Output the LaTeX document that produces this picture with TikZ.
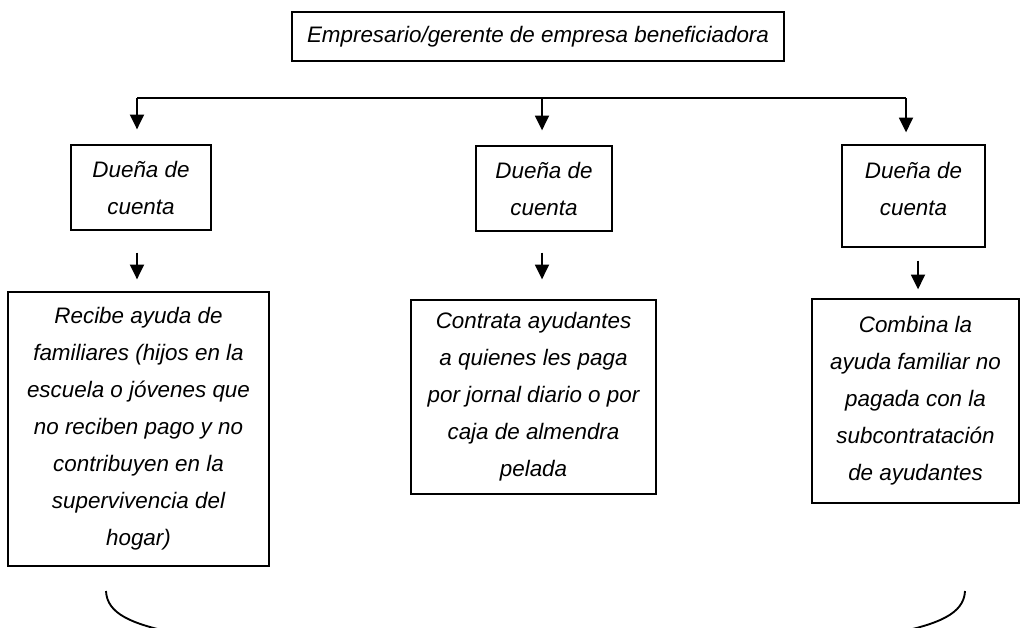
\documentclass[tikz,border=0pt]{standalone}
\usepackage{fontspec}
\setmainfont{Liberation Sans}
\usetikzlibrary{arrows.meta}
\tikzset{
  txt/.style={inner sep=0pt, align=center,
    font=\fontsize{16.8pt}{27.75pt}\selectfont\itshape},
  box/.style 2 args={txt, draw, line width=1pt,
    minimum width=#1*0.75pt, minimum height=#2*0.75pt},
  conn/.style={line width=1.4pt},
  arr/.style={conn, -{Triangle[width=10.5pt,length=11pt]}},
}
\begin{document}
\begin{tikzpicture}[x=0.75pt,y=-0.75pt]
\useasboundingbox (0,0) rectangle (1021,628);
% boxes
\node[box={492}{49}] (top) at (538,36.5) {Empresario/gerente de empresa beneficiadora};
\node[box={140}{85}] (d1) at (141,187.5) {Dueña de\\cuenta};
\node[box={136}{85}] (d2) at (544,188.5) {Dueña de\\cuenta};
\node[box={143}{102}] (d3) at (913.5,196) {};
\node[txt] (d3t) at (913.5,189) {Dueña de\\cuenta};
\node[box={261}{274}] (b1) at (138.5,429) {Recibe ayuda de\\familiares (hijos en la\\escuela o jóvenes que\\no reciben pago y no\\contribuyen en la\\supervivencia del\\hogar)};
\node[box={245}{194}] (b2) at (533.5,397) {Contrata ayudantes\\a quienes les paga\\por jornal diario o por\\caja de almendra\\pelada};
\node[box={207}{204}] (b3) at (915.5,401) {Combina la\\ayuda familiar no\\pagada con la\\subcontratación\\de ayudantes};
% distribution bar
\coordinate (barL) at (137,98);
\coordinate (barM) at (542,98);
\coordinate (barR) at (906,98);
\coordinate (colR) at (918,98);
\draw[conn] (barL) -- (barR);
\draw[arr, shorten >=11.25pt] (barL) -- (d1.north -| barL);
\draw[arr, shorten >=11.25pt] (barM) -- (d2.north -| barM);
\draw[arr, shorten >=9pt] (barR) -- (d3.north -| barR);
% lower arrows
\draw[arr, shorten <=16.5pt, shorten >=9pt] (d1.south -| barL) -- (b1.north -| barL);
\draw[arr, shorten <=15.75pt, shorten >=15pt] (d2.south -| barM) -- (b2.north -| barM);
\draw[arr, shorten <=9.75pt, shorten >=6.75pt] (d3.south -| colR) -- (b3.north -| colR);
% bottom bracket (cut by the page edge)
\begin{scope}
\clip (0,0) rectangle (1021,628);
\draw[conn] (106,591) .. controls (107,614) and (132,624) .. (175,633)
  -- (895,633) .. controls (938,624) and (964,614) .. (965,591);
\end{scope}
\end{tikzpicture}
\end{document}
